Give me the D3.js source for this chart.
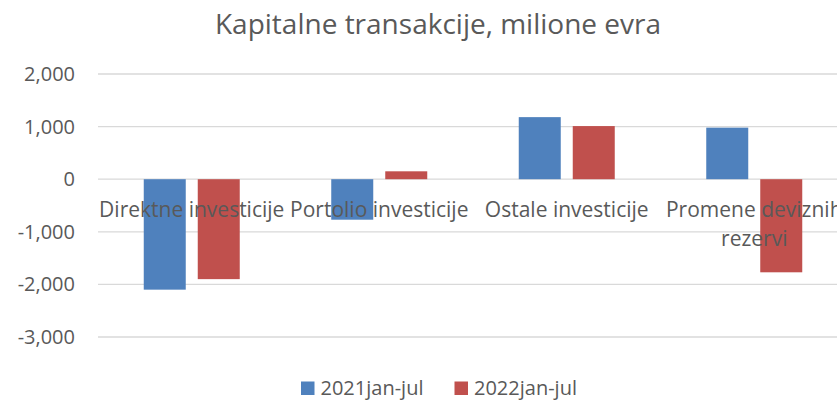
<!DOCTYPE html>
<html>
<head>
<meta charset="utf-8">
<script src="https://cdn.jsdelivr.net/npm/d3@7"></script>
<style>
  body { margin: 0; background: #fff; }
  text { font-family: "Open Sans", "Noto Sans", sans-serif; fill: #595959; }
</style>
</head>
<body>
<div id="chart"></div>
<script>
// data
var categories = ["Direktne investicije", "Portolio investicije", "Ostale investicije", "Promene deviznih rezervi"];
var seriesNames = ["2021jan-jul", "2022jan-jul"];
var values2021 = [-2100, -770, 1180, 980];
var values2022 = [-1900, 150, 1010, -1770];
var yTicks = [-3000, -2000, -1000, 0, 1000, 2000];
var colors = ["#4F81BD", "#C0504D"];

var width = 837, height = 400;
var margin = {top: 74, right: -11, bottom: 63, left: 98};

var svg = d3.select("#chart").append("svg")
  .attr("width", width)
  .attr("height", height);

svg.append("text")
  .attr("x", 438)
  .attr("y", 34)
  .attr("text-anchor", "middle")
  .style("font-size", "28px")
  .text("Kapitalne transakcije, milione evra");

var x = d3.scaleBand()
  .domain(categories)
  .range([margin.left, width - margin.right]);

// two bars of 42px with a 12px gap, centred in each band
var innerW = 96;
var x1 = d3.scaleBand()
  .domain(seriesNames)
  .range([(x.bandwidth() - innerW) / 2, (x.bandwidth() + innerW) / 2])
  .paddingInner(12 / 54);

var y = d3.scaleLinear()
  .domain([-3000, 2000])
  .range([height - margin.bottom, margin.top]);

// gridlines
svg.append("g")
  .selectAll("line")
  .data(yTicks)
  .enter().append("line")
  .attr("x1", margin.left)
  .attr("x2", width)
  .attr("y1", d => y(d))
  .attr("y2", d => y(d))
  .attr("stroke", "#d9d9d9")
  .attr("stroke-width", 1.3);

// y axis labels
var yAxis = d3.axisLeft(y).tickValues(yTicks).tickSize(0).tickPadding(0)
  .tickFormat(d3.format(","));
var gy = svg.append("g")
  .attr("transform", "translate(" + 75 + ",0)")
  .call(yAxis);
gy.select(".domain").remove();
gy.selectAll("text")
  .style("font-size", "20px")
  .style("font-family", "\"Open Sans\", sans-serif")
  .attr("fill", "#595959")
  .text(d => d3.format(",")(d).replace("−", "-"));

var rows = categories.map((c, i) => ({cat: c, vals: [values2021[i], values2022[i]]}));

var groups = svg.append("g").selectAll("g")
  .data(rows)
  .enter().append("g")
  .attr("transform", d => "translate(" + x(d.cat) + ",0)");

groups.selectAll("rect")
  .data(d => d.vals.map((v, j) => ({name: seriesNames[j], v: v, j: j})))
  .enter().append("rect")
  .attr("x", d => x1(d.name))
  .attr("width", x1.bandwidth())
  .attr("y", d => y(Math.max(0, d.v)))
  .attr("height", d => Math.abs(y(d.v) - y(0)))
  .attr("fill", d => colors[d.j]);

// category labels, drawn over the bars
var labelLines = {
  "Promene deviznih rezervi": ["Promene deviznih", "rezervi"]
};
categories.forEach(function(c) {
  var lines = labelLines[c] || [c];
  var t = svg.append("text")
    .attr("text-anchor", "middle")
    .style("font-size", "21px")
    .attr("x", x(c) + x.bandwidth() / 2)
    .attr("y", 217);
  lines.forEach(function(l, i) {
    t.append("tspan")
      .attr("x", x(c) + x.bandwidth() / 2)
      .attr("dy", i === 0 ? 0 : 29)
      .text(l);
  });
});

// legend
var legend = svg.append("g").attr("transform", "translate(301,395)");
var lx = [0, 153.5];
seriesNames.forEach(function(n, i) {
  legend.append("rect")
    .attr("x", lx[i])
    .attr("y", -13.5)
    .attr("width", 13.5)
    .attr("height", 13.5)
    .attr("fill", colors[i]);
  legend.append("text")
    .attr("x", lx[i] + 19.5)
    .attr("y", 0)
    .style("font-size", "20px")
    .text(n);
});
</script>
</body>
</html>
